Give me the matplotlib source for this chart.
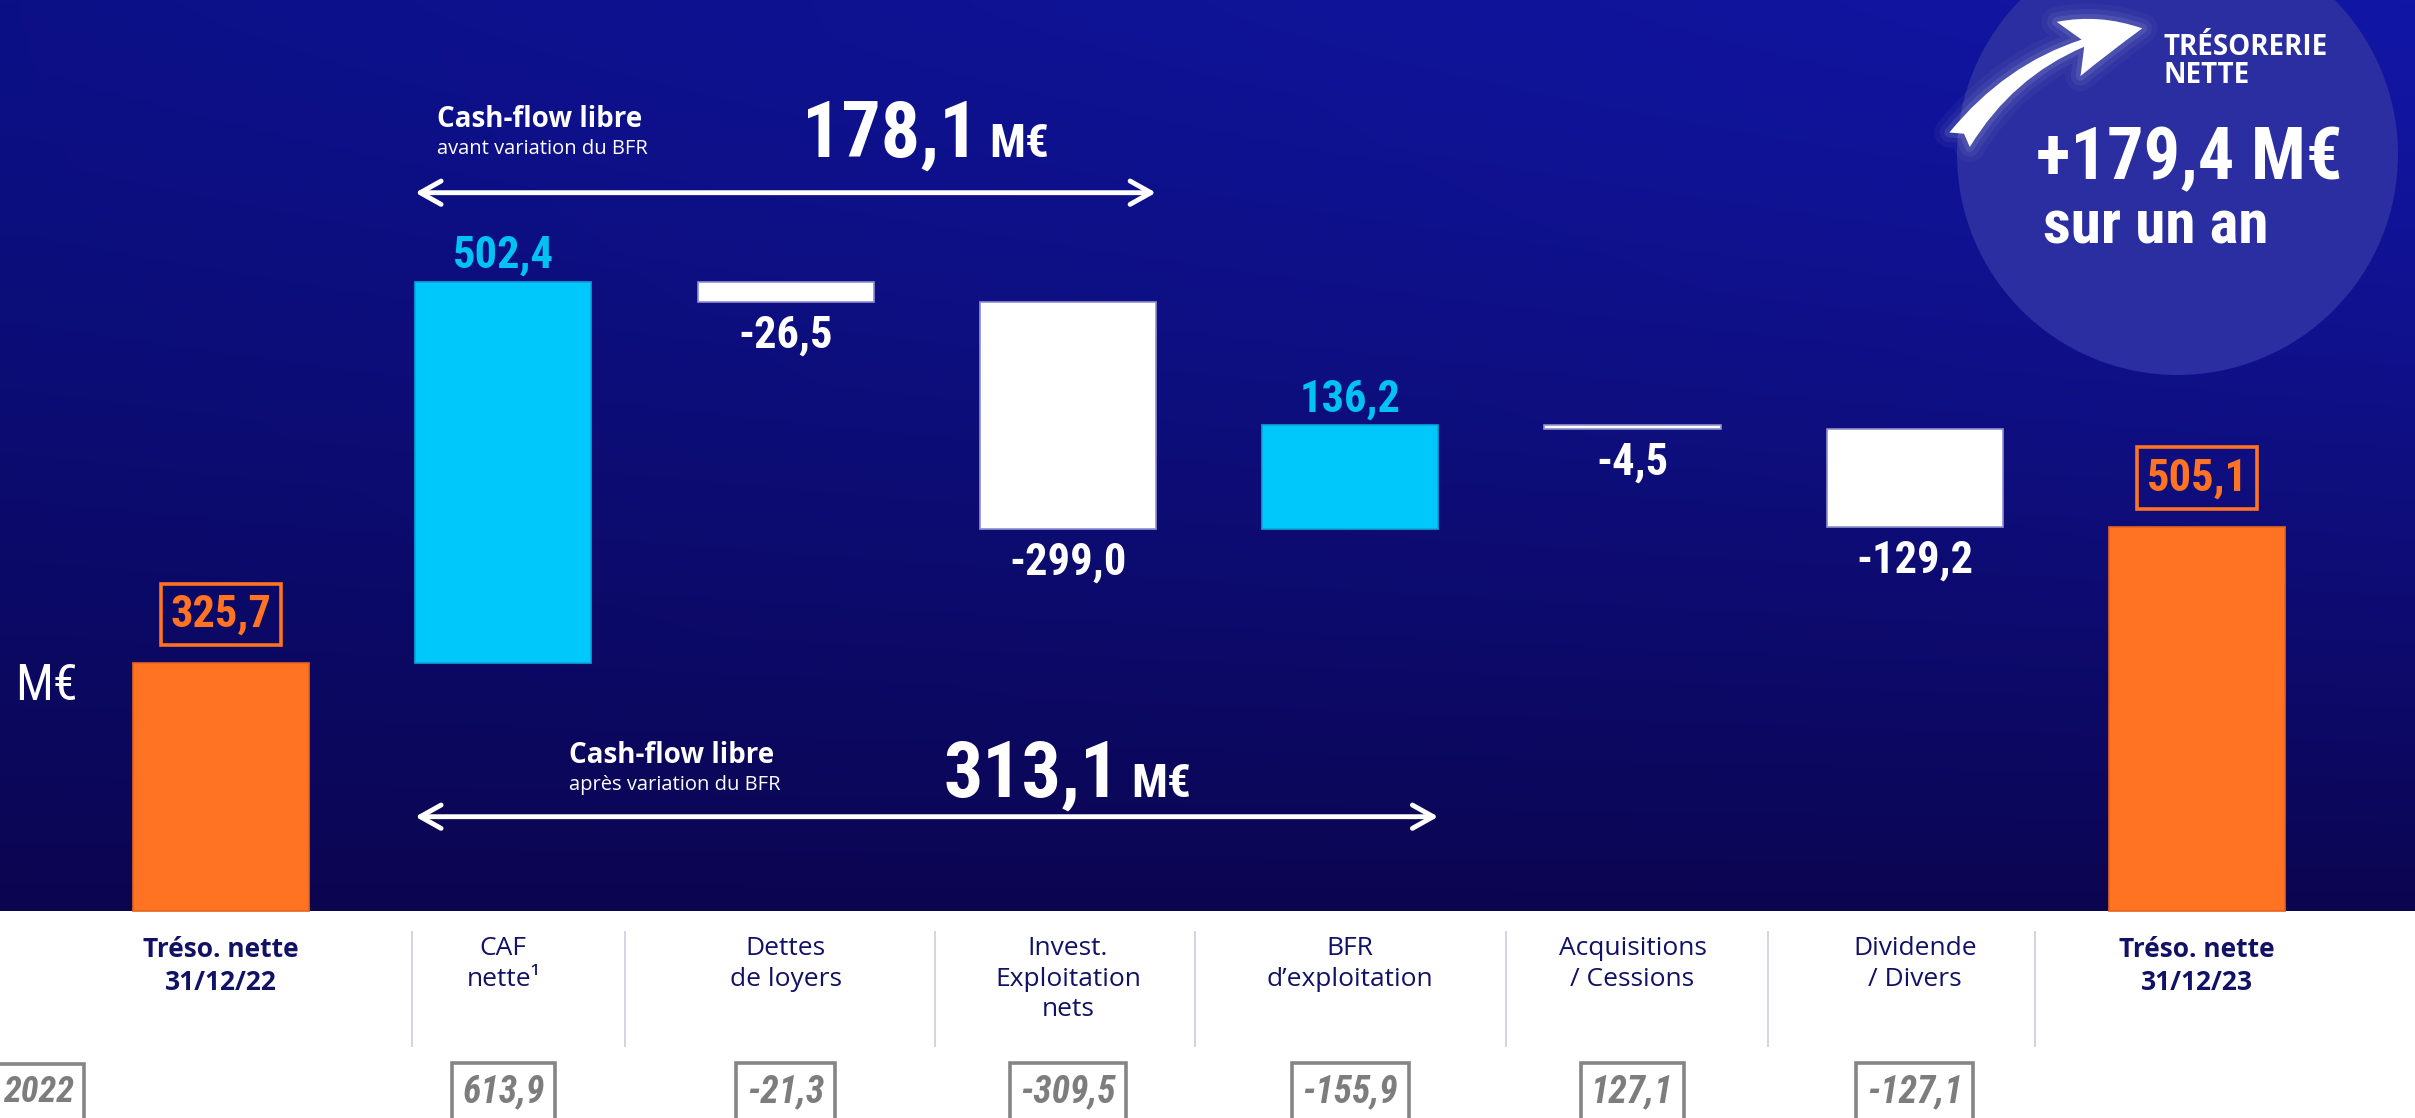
import numpy as np
import matplotlib
matplotlib.use('Agg')
import matplotlib.pyplot as plt
from matplotlib import font_manager
from matplotlib.patches import Circle, FancyArrowPatch
from matplotlib.lines import Line2D
from matplotlib.transforms import Affine2D, blended_transform_factory

# ---- Données (M€) ----
categories = ['Tréso. nette\n31/12/22', 'CAF\nnette¹', 'Dettes\nde loyers',
              'Invest.\nExploitation\nnets', 'BFR\nd’exploitation',
              'Acquisitions\n/ Cessions', 'Dividende\n/ Divers', 'Tréso. nette\n31/12/23']
valeurs = [325.7, 502.4, -26.5, -299.0, 136.2, -4.5, -129.2, 505.1]
est_total = [True, False, False, False, False, False, False, True]
valeurs_n1 = [None, 613.9, -21.3, -309.5, -155.9, 127.1, -127.1, None]  # cadres gris du bas
texte_coupe = '2022'  # cadre coupé à gauche
cash_flow_avant_bfr = 178.1
cash_flow_apres_bfr = 313.1
variation_treso = 179.4


def fr(v):
    return f'{v:.1f}'.replace('.', ',')


# ---- Polices : une famille étroite si elle existe ----
noms = {f.name for f in font_manager.fontManager.ttflist}
etroite, etirement = 'Liberation Sans', 'normal'
for nom in ['Roboto Condensed', 'Liberation Sans Narrow', 'Open Sans Condensed', 'DejaVu Sans Condensed']:
    if nom in noms:
        etroite = nom
        break
else:
    for f in font_manager.fontManager.ttflist:
        if f.stretch in ('condensed', 'semi-condensed') and f.name in ('Roboto', 'Open Sans', 'DejaVu Sans', 'Noto Sans', 'Inter'):
            etroite, etirement = f.name, f.stretch
            break
texte = 'Open Sans' if 'Open Sans' in noms else 'DejaVu Sans'
COND = dict(family=[etroite, 'DejaVu Sans'], stretch=etirement)

# ---- Couleurs ----
orange = '#ff7322'
cyan = '#00c8fb'
cyan_txt = '#00c2f4'
marine = '#111166'
gris = '#7d7d7d'

W, H = 2415, 1118
fig = plt.figure(figsize=(W / 100, H / 100), dpi=100, facecolor='white')
ax = fig.add_axes([0, 0, 1, 1])
ax.axis('off')
# repère en pixels de l'image (origine en haut à gauche)
px = Affine2D().scale(0.01, -0.01).translate(0, H / 100) + fig.dpi_scale_trans
xpx = blended_transform_factory(ax.transData, px)

# échelle : centre de la 1re barre à 221 px, pas de 282,3 px, base à 910,7 px
pas, x0, base, echelle = 282.3, 221, 910.7, 0.7596
xlim = (-x0 / pas, (W - x0) / pas)
ylim = (-(H - base) / echelle, base / echelle)

# ---- Fond dégradé ----
t = np.linspace(0, 1, 256)[:, None, None] ** 1.25
u = np.linspace(0, 1, 64)[None, :, None]
haut = (np.array([12, 16, 135]) * (1 - u) + np.array([18, 22, 165]) * u) / 255
bas_c = np.array([11, 5, 80])[None, None, :] / 255
degrade = haut * (1 - t) + bas_c * t
ax.imshow(degrade, extent=[xlim[0], xlim[1], 0, ylim[1]], aspect='auto',
          interpolation='bilinear', origin='upper', zorder=0)

# ---- Cascade ----
x = np.arange(len(valeurs))
bas = []
cumul = 0.0
for v, tot in zip(valeurs, est_total):
    if tot:
        bas.append(0.0)
        cumul = v
    else:
        bas.append(cumul)
        cumul += v
couleurs = [orange if tot else (cyan if v > 0 else 'white') for v, tot in zip(valeurs, est_total)]
bords = ['#e8641c' if tot else ('#0aa6dc' if v > 0 else '#8f8fd0') for v, tot in zip(valeurs, est_total)]
largeur = 0.6235
ax.bar(x, valeurs, bottom=bas, width=largeur, color=couleurs, edgecolor=bords, linewidth=1.2, zorder=3)

# étiquettes de valeurs
for i, (v, b, tot) in enumerate(zip(valeurs, bas, est_total)):
    if tot:
        ax.annotate(fr(v), (i, b + v), xytext=(0, 20), textcoords='offset points',
                    ha='center', va='bottom', fontsize=32, fontweight='bold', color=orange,
                    bbox=dict(boxstyle='square,pad=0.22', fc='none', ec=orange, lw=2.6), **COND)
    elif v > 0:
        ax.annotate(fr(v), (i, b + v), xytext=(0, 10), textcoords='offset points',
                    ha='center', va='baseline', fontsize=32, fontweight='bold', color=cyan_txt, **COND)
    else:
        ax.annotate(fr(v), (i, b + v), xytext=(0, -9), textcoords='offset points',
                    ha='center', va='top', fontsize=32, fontweight='bold', color='white', **COND)

# ---- Flèches cash-flow libre ----
for debut, fin, y in [(1, 3, 192.7), (1, 4, 816.7)]:
    ax.annotate('', xy=(fin + largeur / 2, y), xycoords=xpx,
                xytext=(debut - largeur / 2, y), textcoords=xpx,
                arrowprops=dict(arrowstyle='<->,head_length=0.75,head_width=0.42',
                                mutation_scale=20, lw=3.5, color='white',
                                shrinkA=0, shrinkB=0))

fig.text(437, 127, 'Cash-flow libre', transform=px, color='white', fontsize=20,
         fontweight='bold', family=texte, va='baseline')
fig.text(437, 154, 'avant variation du BFR', transform=px, color='white', fontsize=14.5,
         family=texte, va='baseline')
g1 = fig.text(802, 157, fr(cash_flow_avant_bfr), transform=px, color='white', fontsize=56,
              fontweight='bold', va='baseline', **COND)
ax.annotate('M€', xy=(1, 157), xycoords=(g1, px), xytext=(8, 0), textcoords='offset points',
            color='white', fontsize=34, fontweight='bold', va='baseline', ha='left', **COND)

fig.text(569, 763, 'Cash-flow libre', transform=px, color='white', fontsize=20,
         fontweight='bold', family=texte, va='baseline')
fig.text(569, 790, 'après variation du BFR', transform=px, color='white', fontsize=14.5,
         family=texte, va='baseline')
g2 = fig.text(944, 797, fr(cash_flow_apres_bfr), transform=px, color='white', fontsize=56,
              fontweight='bold', va='baseline', **COND)
ax.annotate('M€', xy=(1, 797), xycoords=(g2, px), xytext=(8, 0), textcoords='offset points',
            color='white', fontsize=34, fontweight='bold', va='baseline', ha='left', **COND)

# texte coupé à gauche
fig.text(15, 700, 'M€', transform=px, color='white', fontsize=36, va='baseline', **COND)

# ---- Bulle trésorerie nette ----
fig.add_artist(Circle((2177.5, 154.5), 220.5, transform=px, fc='#2a2ea0', ec='none', zorder=1))
fleche = dict(connectionstyle='arc3,rad=-0.22',
              arrowstyle='fancy,head_length=1.1,head_width=0.85,tail_width=0.36',
              mutation_scale=50)
for lw, a in [(22, 0.035), (14, 0.05), (7, 0.09)]:
    fig.add_artist(FancyArrowPatch((1958, 142), (2145, 28), transform=px, fc='white', ec='white',
                                   lw=lw, alpha=a, zorder=2, **fleche))
fig.add_artist(FancyArrowPatch((1958, 142), (2145, 28), transform=px, fc='white', ec='none',
                               zorder=3, **fleche))
fig.text(2163, 33, 'TRÉSORERIE\nNETTE', transform=px, color='white', fontsize=20,
         fontweight='bold', family=texte, va='top', linespacing=0.95, zorder=4)
fig.text(2036, 179, f'+{fr(variation_treso)} M€', transform=px, color='white', fontsize=52,
         fontweight='bold', va='baseline', zorder=4, **COND)
fig.text(2043, 243, 'sur un an', transform=px, color='white', fontsize=44,
         fontweight='bold', va='baseline', zorder=4, **COND)

# ---- Bandeau blanc : libellés et séparateurs ----
for i, (cat, tot) in enumerate(zip(categories, est_total)):
    ax.text(i, 936, cat, transform=xpx, ha='center', va='top', fontsize=19,
            fontweight='bold' if tot else 'normal', color=marine, family=texte,
            linespacing=1.3, clip_on=False)

for xs in [412, 625, 935, 1195, 1506, 1768, 2035]:
    fig.add_artist(Line2D([xs, xs], [932, 1046], transform=px, color='#d3d3e8', lw=1.4))

for i, v in enumerate(valeurs_n1):
    if v is None:
        continue
    ax.text(i, 1092, fr(v), transform=xpx, ha='center', va='center', fontsize=27,
            fontweight='bold', style='italic', color=gris, clip_on=False,
            bbox=dict(boxstyle='square,pad=0.28', fc='white', ec='#858585', lw=2.6), **COND)
fig.text(3, 1092, texte_coupe, transform=px, ha='left', va='center', fontsize=26,
         fontweight='bold', style='italic', color=gris,
         bbox=dict(boxstyle='square,pad=0.28', fc='white', ec='#858585', lw=2.6), **COND)

ax.set_xlim(*xlim)
ax.set_ylim(*ylim)
fig.savefig('out.png', dpi=100, facecolor='white')
